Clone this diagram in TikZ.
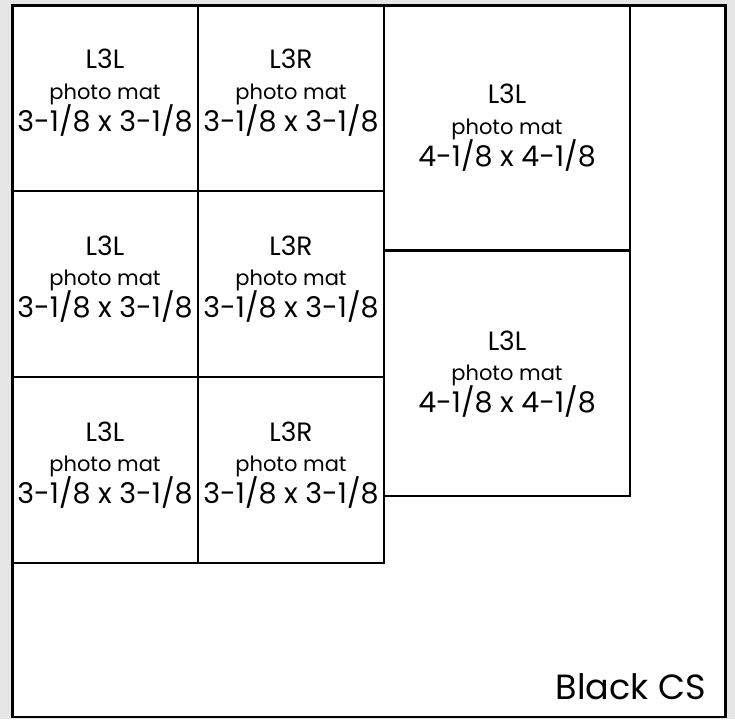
\documentclass[tikz,border=0pt]{standalone}
\usepackage{fontspec}
\setmainfont{Poppins}
\definecolor{bggray}{HTML}{E6E6E6}
\tikzset{
  cellline/.style={draw=black, line width=2.2pt},
  frameline/.style={draw=black, line width=2.6pt, fill=white},
  lbl/.style={anchor=base, inner sep=0pt, font=\fontsize{26.5}{30}\selectfont},
  sub/.style={anchor=base, inner sep=0pt, font=\fontsize{21}{24}\selectfont},
  dim/.style={anchor=base, inner sep=0pt, font=\fontsize{28.5}{32}\selectfont},
}
\newcommand{\matcell}[6]{%
  \node[lbl] (#1a) at (#2,#3) {#4};
  \node[sub] (#1b) at (#2,#3+30.5) {photo mat};
  \node[dim] (#1c) at (#2,#3+62.5) {#5-1/8 x #5-1/8};
}
\begin{document}
\begin{tikzpicture}[x=1pt,y=-1pt]
\useasboundingbox (0,0) rectangle (735,719);
\fill[bggray] (0,0) rectangle (735,719);
\draw[frameline] (12.5,5.5) rectangle (725.5,717);
% left grid
\draw[cellline] (12.5,5.5) rectangle (198,191);
\draw[cellline] (198,5.5) rectangle (384,191);
\draw[cellline] (12.5,191) rectangle (198,377);
\draw[cellline] (198,191) rectangle (384,377);
\draw[cellline] (12.5,377) rectangle (198,563);
\draw[cellline] (198,377) rectangle (384,563);
% right column
\draw[cellline] (384,5.5) rectangle (630,250.5);
\draw[cellline] (384,250.5) rectangle (630,496);
\draw[frameline, fill=none] (12.5,5.5) rectangle (725.5,717);
\matcell{a}{105}{69}{L3L}{3}{}
\matcell{b}{291}{69}{L3R}{3}{}
\matcell{c}{105}{255}{L3L}{3}{}
\matcell{d}{291}{255}{L3R}{3}{}
\matcell{e}{105}{441}{L3L}{3}{}
\matcell{f}{291}{441}{L3R}{3}{}
\matcell{g}{507}{104}{L3L}{4}{}
\matcell{h}{507}{350}{L3L}{4}{}
\node[anchor=base east, inner sep=0pt, font=\fontsize{35}{38}\selectfont] (cs) at (706,699.3) {Black CS};
\end{tikzpicture}
\end{document}
